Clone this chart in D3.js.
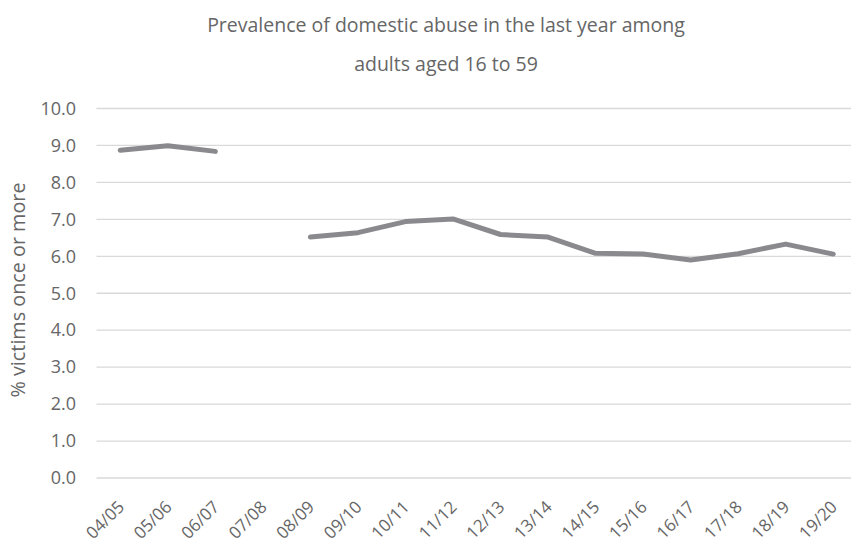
<!DOCTYPE html>
<html>
<head>
<meta charset="utf-8">
<script src="https://cdn.jsdelivr.net/npm/d3@7"></script>
<style>
  body { margin: 0; background: #fff; }
  svg { display: block; }
  text { font-family: "Open Sans", "DejaVu Sans", sans-serif; fill: #666666; }
</style>
</head>
<body>
<svg id="chart" width="851" height="543"></svg>
<script>
const categories = ["04/05","05/06","06/07","07/08","08/09","09/10","10/11","11/12","12/13","13/14","14/15","15/16","16/17","17/18","18/19","19/20"];
const values = [8.87, 8.99, 8.84, null, 6.52, 6.64, 6.94, 7.01, 6.59, 6.52, 6.08, 6.06, 5.90, 6.07, 6.33, 6.06];
const yTicks = [0,1,2,3,4,5,6,7,8,9,10];
const titleLines = ["Prevalence of domestic abuse in the last year among", "adults aged 16 to 59"];
const yTitle = "% victims once or more";

const svg = d3.select("#chart");
const plotLeft = 96.5, plotRight = 857, plotTop = 108.5, plotBottom = 478;

const x = d3.scaleBand().domain(categories).range([plotLeft, plotRight]).padding(0);
const y = d3.scaleLinear().domain([0, 10]).range([plotBottom, plotTop]);

// gridlines
svg.append("g").selectAll("line").data(yTicks).join("line")
  .attr("x1", plotLeft).attr("x2", 851)
  .attr("y1", d => y(d)).attr("y2", d => y(d))
  .attr("stroke", "#d9d9d9").attr("stroke-width", 1.3);

// y axis labels
const yAxis = d3.axisLeft(y).tickValues(yTicks).tickFormat(d3.format(".1f")).tickSize(0).tickPadding(20.5);
const gy = svg.append("g").attr("transform", `translate(${plotLeft},0)`).call(yAxis);
gy.select(".domain").remove();
gy.selectAll("text").attr("font-size", 18).style("font-family", "\"Open Sans\", sans-serif").attr("fill", "#666666");

// x axis labels
const xAxis = d3.axisBottom(x).tickSize(0).tickPadding(0);
const gx = svg.append("g").attr("transform", `translate(0,${plotBottom})`).call(xAxis);
gx.select(".domain").remove();
gx.selectAll("text")
  .attr("font-size", 17).style("font-family", "\"Open Sans\", sans-serif").attr("fill", "#666666")
  .attr("text-anchor", "end")
  .attr("dy", 0).attr("y", 0)
  .attr("transform", "translate(5,30) rotate(-45)");

// line
const line = d3.line()
  .defined(d => d.v != null)
  .x(d => x(d.c) + x.bandwidth() / 2)
  .y(d => y(d.v));
svg.append("path")
  .datum(categories.map((c, i) => ({ c, v: values[i] })))
  .attr("fill", "none")
  .attr("stroke", "#8a8a8e")
  .attr("stroke-width", 5)
  .attr("stroke-linecap", "round")
  .attr("stroke-linejoin", "round")
  .attr("d", line);

// title
svg.append("g").selectAll("text").data(titleLines).join("text")
  .attr("x", 446).attr("y", (d, i) => 32 + i * 38.5)
  .attr("text-anchor", "middle").attr("font-size", 19.5)
  .attr("fill", "#737373")
  .text(d => d);

// y title
svg.append("text")
  .attr("transform", `translate(25,290) rotate(-90)`)
  .attr("text-anchor", "middle").attr("font-size", 19.8)
  .text(yTitle);
</script>
</body>
</html>
